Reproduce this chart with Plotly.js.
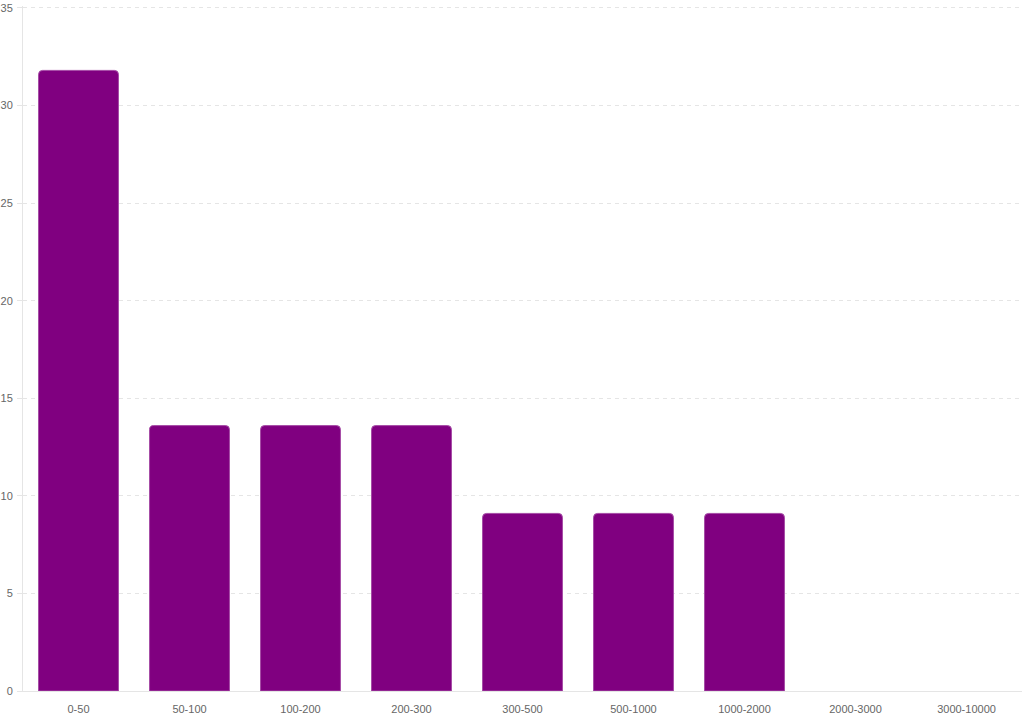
<!DOCTYPE html>
<html>
<head>
<meta charset="utf-8">
<script src="https://cdn.plot.ly/plotly-3.0.1.min.js"></script>
<style>html,body{margin:0;padding:0;background:#fff;}#chart{width:1024px;height:716px;}</style>
</head>
<body>
<div id="chart"></div>
<script>
const categories = ["0-50","50-100","100-200","200-300","300-500","500-1000","1000-2000","2000-3000","3000-10000"];
const values = [31.8, 13.6, 13.6, 13.6, 9.1, 9.1, 9.1, 0, 0];
const yTicks = [0, 5, 10, 15, 20, 25, 30, 35];

const trace = {
  type: 'bar',
  x: categories,
  y: values,
  marker: {color: '#800080', line: {color: '#a64ca6', width: values.map(v => v > 0 ? 1 : 0)}},
  hoverinfo: 'x+y'
};

const layout = {
  width: 1024, height: 716,
  margin: {l: 23, r: 2, t: 6, b: 25},
  paper_bgcolor: '#fff', plot_bgcolor: '#fff',
  bargap: 0.28,
  barcornerradius: 4,
  showlegend: false,
  font: {family: 'Liberation Sans, Arial, sans-serif', size: 11, color: '#666'},
  xaxis: {
    type: 'category',
    showgrid: false,
    showline: true, linecolor: '#e5e5e5', linewidth: 1,
    ticks: '', ticklabelstandoff: 8,
    tickfont: {size: 11, color: '#666'},
    zeroline: false
  },
  yaxis: {
    range: [0, 35.1],
    tickvals: yTicks,
    showgrid: true, gridcolor: '#e5e5e5', griddash: '4px,4px', gridwidth: 1,
    showline: true, linecolor: '#e5e5e5', linewidth: 1,
    ticks: 'outside', ticklen: 5, tickcolor: '#e5e5e5',
    ticklabelstandoff: 2,
    tickfont: {size: 11, color: '#666'},
    zeroline: false
  }
};

Plotly.newPlot('chart', [trace], layout, {displayModeBar: false, staticPlot: true});
</script>
</body>
</html>
